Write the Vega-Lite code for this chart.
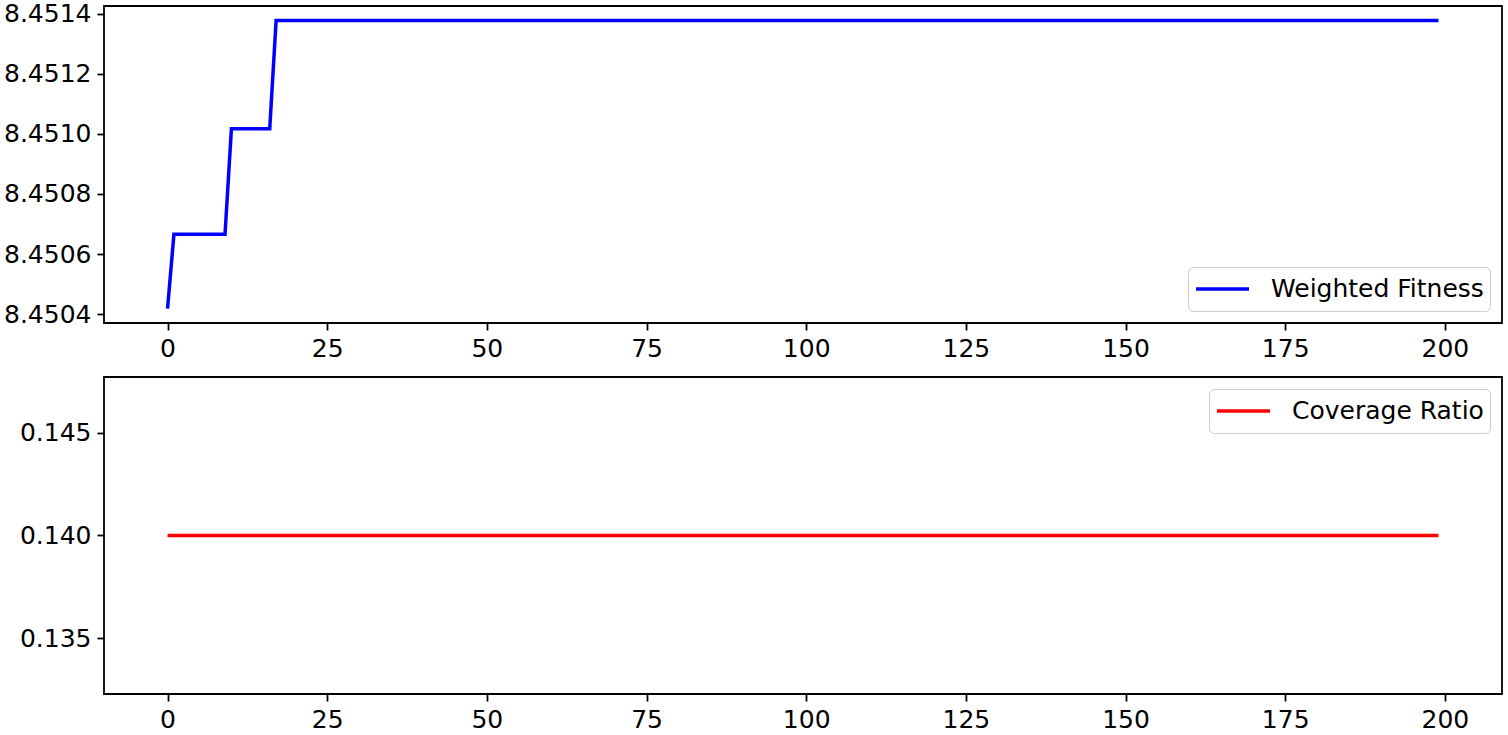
{
  "$schema": "https://vega.github.io/schema/vega-lite/v6.json",
  "background": "white",
  "padding": {"left": 2, "top": 0, "right": 5, "bottom": 5},
  "bounds": "flush",
  "spacing": 54,
  "config": {
    "font": "DejaVu Sans",
    "view": {"stroke": "black", "strokeWidth": 1.8},
    "axis": {
      "grid": false,
      "domain": false,
      "ticks": true,
      "tickColor": "black",
      "tickWidth": 1.8,
      "tickSize": 7,
      "labelFont": "DejaVu Sans",
      "labelFontSize": 25,
      "labelColor": "black",
      "labelPadding": 6,
      "labelLimit": 0,
      "title": null
    },
    "legend": {
      "labelFont": "DejaVu Sans",
      "labelFontSize": 25,
      "labelColor": "black",
      "labelLimit": 0,
      "symbolType": "stroke",
      "symbolStrokeWidth": 3.5,
      "symbolSize": 2809,
      "clipHeight": 32,
      "padding": 6,
      "cornerRadius": 5,
      "strokeColor": "#cccccc",
      "fillColor": "white",
      "labelOffset": 20,
      "offset": 12
    }
  },
  "datasets": {
    "fit": [
      {"gen": 0, "value": 8.450419, "series": "Weighted Fitness"},
      {"gen": 1, "value": 8.450666, "series": "Weighted Fitness"},
      {"gen": 9, "value": 8.450666, "series": "Weighted Fitness"},
      {"gen": 10, "value": 8.451017, "series": "Weighted Fitness"},
      {"gen": 16, "value": 8.451017, "series": "Weighted Fitness"},
      {"gen": 17, "value": 8.451377, "series": "Weighted Fitness"},
      {"gen": 199, "value": 8.451377, "series": "Weighted Fitness"}
    ],
    "cov": [
      {"gen": 0, "value": 0.14, "series": "Coverage Ratio"},
      {"gen": 199, "value": 0.14, "series": "Coverage Ratio"}
    ]
  },
  "resolve": {
    "scale": {"color": "independent", "x": "independent", "y": "independent"},
    "legend": {"color": "independent"}
  },
  "vconcat": [
    {
      "width": 1398,
      "height": 317,
      "data": {"name": "fit"},
      "mark": {"type": "line", "strokeWidth": 3.5, "clip": true},
      "encoding": {
        "x": {
          "field": "gen",
          "type": "quantitative",
          "scale": {"domain": [-9.95, 208.95], "nice": false, "zero": false},
          "axis": {"values": [0, 25, 50, 75, 100, 125, 150, 175, 200], "format": "d"}
        },
        "y": {
          "field": "value",
          "type": "quantitative",
          "scale": {"domain": [8.450371, 8.451425], "nice": false, "zero": false},
          "axis": {"values": [8.4504, 8.4506, 8.4508, 8.451, 8.4512, 8.4514], "format": ".4f"}
        },
        "color": {
          "field": "series",
          "type": "nominal",
          "scale": {"domain": ["Weighted Fitness"], "range": ["#0000ff"]},
          "legend": {"title": null, "orient": "bottom-right"}
        }
      }
    },
    {
      "width": 1398,
      "height": 317,
      "data": {"name": "cov"},
      "mark": {"type": "line", "strokeWidth": 3.5, "clip": true},
      "encoding": {
        "x": {
          "field": "gen",
          "type": "quantitative",
          "scale": {"domain": [-9.95, 208.95], "nice": false, "zero": false},
          "axis": {"values": [0, 25, 50, 75, 100, 125, 150, 175, 200], "format": "d"}
        },
        "y": {
          "field": "value",
          "type": "quantitative",
          "scale": {"domain": [0.1323, 0.1477], "nice": false, "zero": false},
          "axis": {"values": [0.135, 0.14, 0.145], "format": ".3f"}
        },
        "color": {
          "field": "series",
          "type": "nominal",
          "scale": {"domain": ["Coverage Ratio"], "range": ["#ff0000"]},
          "legend": {"title": null, "orient": "top-right"}
        }
      }
    }
  ]
}
